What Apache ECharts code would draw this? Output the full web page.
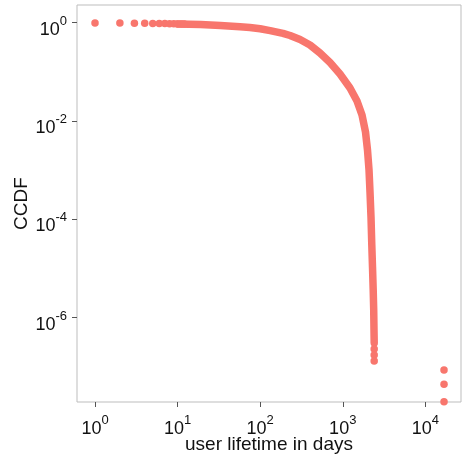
<!DOCTYPE html>
<html>
<head>
<meta charset="utf-8">
<script src="https://cdn.jsdelivr.net/npm/echarts@6/dist/echarts.min.js"></script>
<style>
html,body{margin:0;padding:0;background:#fff;}
#c{width:462px;height:461px;}
</style>
</head>
<body>
<div id="c"></div>
<script>
// early discrete days (distinct dots)
const earlyDays = [1, 2, 3, 4, 5, 6, 7, 8, 9, 10, 11, 12];
const earlyCCDF = [0.985, 0.98, 0.975, 0.97, 0.966, 0.962, 0.958, 0.953, 0.949, 0.945, 0.941, 0.938];
// dense part of the curve (read along the band centre)
const curveDays = [10, 19, 33, 57, 75, 100, 132, 189, 230, 304, 401, 530, 701, 926, 1224, 1488, 1711, 1886, 1994, 2080, 2138, 2199, 2248, 2293, 2338, 2371, 2390, 2404];
const curveCCDF = [0.945, 0.919, 0.873, 0.825, 0.798, 0.751, 0.691, 0.608, 0.549, 0.455, 0.352, 0.242, 0.155, 0.0904, 0.0469, 0.0255, 0.01325, 0.00597, 0.00257, 0.00101, 3.59e-4, 1.11e-4, 3.0e-5, 1.07e-5, 3.64e-6, 1.43e-6, 5.59e-7, 3.04e-7];
// last separate dots at the end of the tail
const tailDays = [2404, 2404, 2404];
const tailCCDF = [2.30e-7, 1.73e-7, 1.31e-7];
// outliers at very long lifetimes
const outlierDays = [16840, 16840, 16840];
const outlierCCDF = [8.6e-8, 4.4e-8, 1.95e-8];
// tick values
const xTicks = [1, 10, 100, 1000, 10000];
const yTicks = [1, 0.01, 0.0001, 0.000001];

const COLOR = '#F8766D';
const zip = (a, b) => a.map((v, i) => [v, b[i]]);

function supLabel(v) {
  const e = Math.round(Math.log10(v));
  return '{b|10}{s|' + e + '}';
}
const rich = {
  b: { fontSize: 18, lineHeight: 24, verticalAlign: 'bottom', color: '#111', fontFamily: 'Liberation Sans, Arial, sans-serif' },
  s: { fontSize: 13, lineHeight: 12, verticalAlign: 'top', color: '#111', fontFamily: 'Liberation Sans, Arial, sans-serif' }
};

const chart = echarts.init(document.getElementById('c'), null, { renderer: 'canvas' });
chart.setOption({
  animation: false,
  backgroundColor: '#fff',
  grid: { left: 77, top: 5, right: 1, bottom: 59, show: true, borderColor: '#bdbdbd', borderWidth: 1, backgroundColor: 'transparent' },
  xAxis: {
    type: 'log', logBase: 10, min: 0.605, max: 27040,
    name: 'user lifetime in days', nameLocation: 'middle', nameGap: 33, nameMoveOverlap: false,
    nameTextStyle: { fontSize: 19, color: '#111', fontFamily: 'Liberation Sans, Arial, sans-serif' },
    axisLine: { show: false },
    axisTick: { show: true, inside: false, length: 5, lineStyle: { color: '#555', width: 1 }, customValues: xTicks },
    axisLabel: { margin: 12, formatter: supLabel, rich: rich, customValues: xTicks },
    splitLine: { show: false }, minorTick: { show: false }
  },
  yAxis: {
    type: 'log', logBase: 10, min: 1.92e-8, max: 2.29,
    name: 'CCDF', nameLocation: 'middle', nameGap: 46, nameRotate: 90, nameMoveOverlap: false,
    nameTextStyle: { fontSize: 19, color: '#111', fontFamily: 'Liberation Sans, Arial, sans-serif' },
    axisLine: { show: false },
    axisTick: { show: true, inside: false, length: 5, lineStyle: { color: '#555', width: 1 }, customValues: yTicks },
    axisLabel: { margin: 10, formatter: supLabel, rich: rich, padding: [8, 0, 0, 0], customValues: yTicks },
    splitLine: { show: false }, minorTick: { show: false }
  },
  series: [
    {
      type: 'line', data: zip(curveDays, curveCCDF), showSymbol: false, symbol: 'none',
      lineStyle: { color: COLOR, width: 7.5, cap: 'round', join: 'round' }, smooth: false, z: 2
    },
    {
      type: 'scatter', data: zip(earlyDays, earlyCCDF), symbolSize: 7.5,
      itemStyle: { color: COLOR, opacity: 1 }, z: 3
    },
    {
      type: 'scatter', data: zip(tailDays, tailCCDF), symbolSize: 7.5,
      itemStyle: { color: COLOR, opacity: 1 }, z: 3
    },
    {
      type: 'scatter', data: zip(outlierDays, outlierCCDF), symbolSize: 7.5,
      itemStyle: { color: COLOR, opacity: 1 }, z: 3
    }
  ]
});
</script>
</body>
</html>
